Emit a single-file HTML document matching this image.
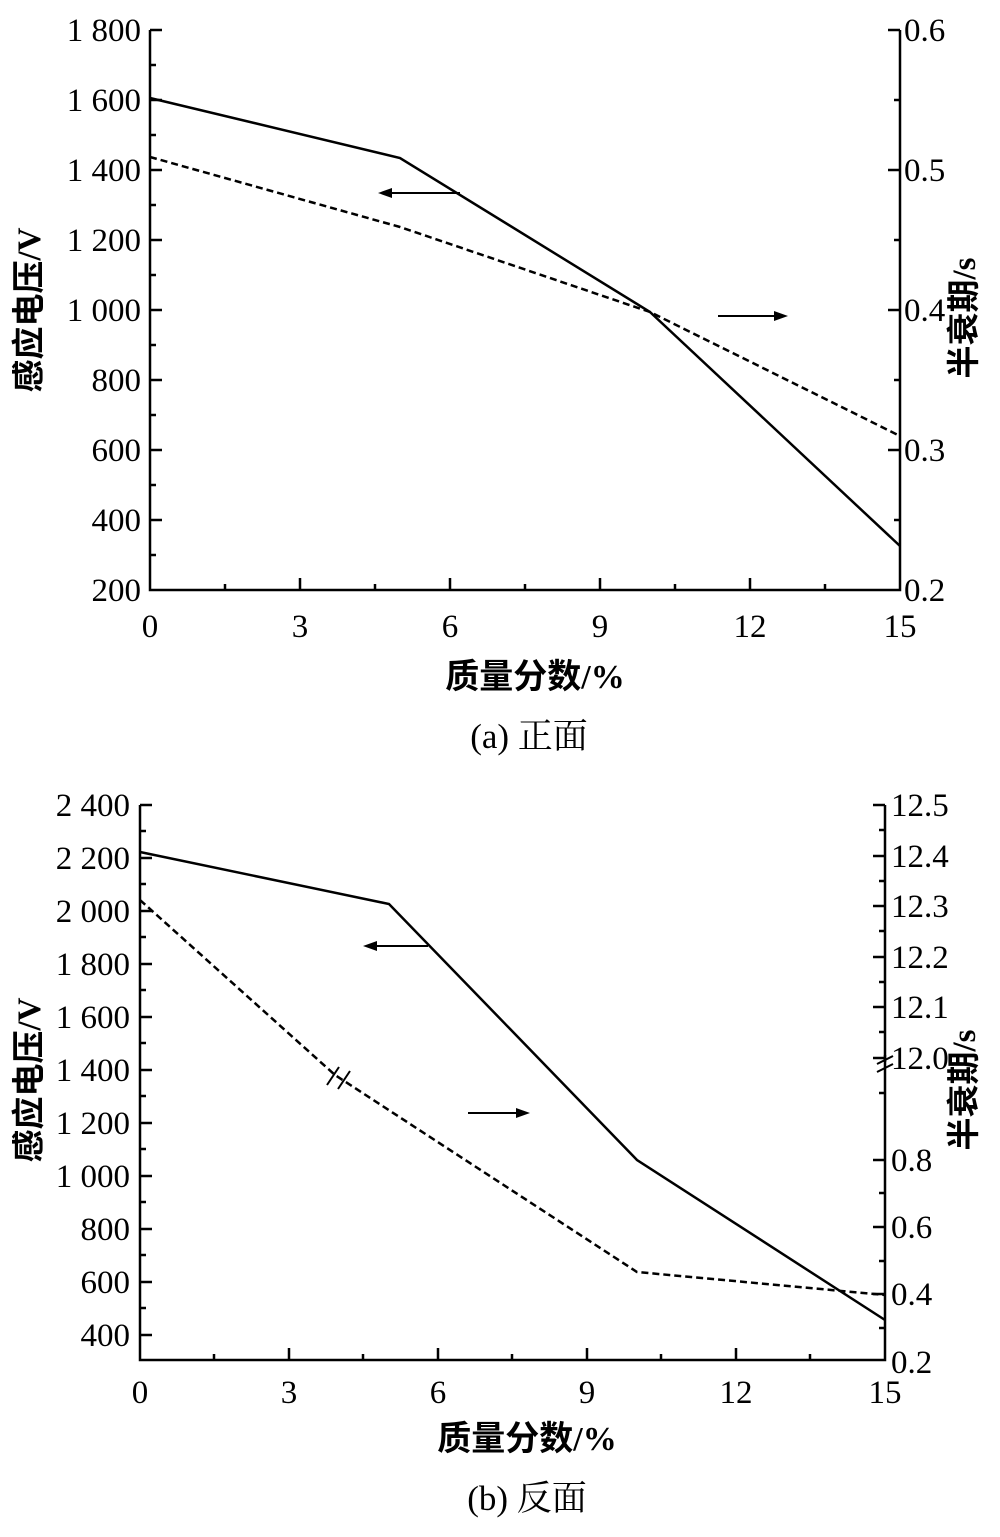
<!DOCTYPE html>
<html><head><meta charset="utf-8"><style>
body{margin:0;background:#fff}
text{font-family:"Liberation Serif","Noto Serif CJK SC",serif;fill:#000}
.c{font-family:"Liberation Serif","Noto Sans CJK SC",sans-serif;font-weight:bold}
</style></head><body>
<svg width="1000" height="1532" viewBox="0 0 1000 1532" xmlns="http://www.w3.org/2000/svg">
<g stroke="#000" stroke-width="2.5" fill="none">
<polyline points="150,30 150,590 900,590 900,30"/>
<path d="M150,30h12M150,100h12M150,170h12M150,240h12M150,310h12M150,380h12M150,450h12M150,520h12M150,65h6M150,135h6M150,205h6M150,275h6M150,345h6M150,415h6M150,485h6M150,555h6"/>
<path d="M900,30h-12M900,170h-12M900,310h-12M900,450h-12M900,100h-6M900,240h-6M900,380h-6M900,520h-6"/>
<path d="M300,590v-12M450,590v-12M600,590v-12M750,590v-12M225,590v-6M375,590v-6M525,590v-6M675,590v-6M825,590v-6"/>
<polyline points="150,98 400,158 650,312 900,546"/>
<polyline points="150,157 400,227 650,312 900,436" stroke-dasharray="7,4"/>
<path d="M460,193H385M718,316H780" stroke-width="2"/>
</g>
<path d="M378,193l14,-5v10z M788,316l-14,-5v10z" fill="#000"/>
<g font-size="33" text-anchor="end">
<text x="141" y="41">1 800</text><text x="141" y="111">1 600</text><text x="141" y="181">1 400</text><text x="141" y="251">1 200</text><text x="141" y="321">1 000</text><text x="141" y="391">800</text><text x="141" y="461">600</text><text x="141" y="531">400</text><text x="141" y="601">200</text>
</g>
<g font-size="33">
<text x="904" y="41">0.6</text><text x="904" y="181">0.5</text><text x="904" y="321">0.4</text><text x="904" y="461">0.3</text><text x="904" y="601">0.2</text>
</g>
<g font-size="33" text-anchor="middle">
<text x="150" y="637">0</text><text x="300" y="637">3</text><text x="450" y="637">6</text><text x="600" y="637">9</text><text x="750" y="637">12</text><text x="900" y="637">15</text>
<text class="c" font-size="34" x="535" y="688">质量分数/%</text>
<text font-size="35" x="529" y="748">(a) 正面</text>
</g>
<text class="c" font-size="33" text-anchor="middle" transform="translate(40,310) rotate(-90)">感应电压/V</text>
<text class="c" font-size="33" text-anchor="middle" transform="translate(975,318) rotate(-90)">半衰期/s</text>

<g stroke="#000" stroke-width="2.5" fill="none">
<polyline points="140,805 140,1360 885,1360 885,1055"/>
<line x1="885" y1="1062" x2="885" y2="805"/>
<path d="M140,805h12M140,858h12M140,911h12M140,964h12M140,1017h12M140,1070h12M140,1123h12M140,1176h12M140,1229h12M140,1282h12M140,1335h12M140,831h6M140,884h6M140,937h6M140,990h6M140,1043h6M140,1096h6M140,1149h6M140,1202h6M140,1255h6M140,1308h6"/>
<path d="M885,805h-12M885,856h-12M885,906h-12M885,957h-12M885,1007h-12M885,1058h-12M885,830h-6M885,881h-6M885,931h-6M885,982h-6M885,1032h-6M885,1093h-6M885,1160h-12M885,1227h-12M885,1294h-12M885,1193h-6M885,1261h-6M885,1328h-6"/>
<path d="M877,1064l16,-8M877,1072l16,-8" stroke-width="2"/>
<path d="M289,1360v-12M438,1360v-12M587,1360v-12M736,1360v-12M214,1360v-6M363,1360v-6M512,1360v-6M661,1360v-6M810,1360v-6"/>
<polyline points="140,852 389,904 637,1160 885,1320"/>
<polyline points="140,900 335,1075 637,1272 885,1295" stroke-dasharray="7,4"/>
<path d="M327,1085l12,-18M338,1089l12,-18" stroke-width="2"/>
<path d="M428,946H370M468,1113H522" stroke-width="2"/>
</g>
<path d="M363,946l14,-5v10z M530,1113l-14,-5v10z" fill="#000"/>
<g font-size="33" text-anchor="end">
<text x="130" y="816">2 400</text><text x="130" y="869">2 200</text><text x="130" y="922">2 000</text><text x="130" y="975">1 800</text><text x="130" y="1028">1 600</text><text x="130" y="1081">1 400</text><text x="130" y="1134">1 200</text><text x="130" y="1187">1 000</text><text x="130" y="1240">800</text><text x="130" y="1293">600</text><text x="130" y="1346">400</text>
</g>
<g font-size="33">
<text x="891" y="816">12.5</text><text x="891" y="867">12.4</text><text x="891" y="917">12.3</text><text x="891" y="968">12.2</text><text x="891" y="1018">12.1</text><text x="891" y="1069">12.0</text><text x="891" y="1171">0.8</text><text x="891" y="1238">0.6</text><text x="891" y="1305">0.4</text><text x="891" y="1373">0.2</text>
</g>
<g font-size="33" text-anchor="middle">
<text x="140" y="1403">0</text><text x="289" y="1403">3</text><text x="438" y="1403">6</text><text x="587" y="1403">9</text><text x="736" y="1403">12</text><text x="885" y="1403">15</text>
<text class="c" font-size="34" x="527" y="1450">质量分数/%</text>
<text font-size="35" x="527" y="1510">(b) 反面</text>
</g>
<text class="c" font-size="33" text-anchor="middle" transform="translate(40,1080) rotate(-90)">感应电压/V</text>
<text class="c" font-size="33" text-anchor="middle" transform="translate(975,1090) rotate(-90)">半衰期/s</text>
</svg>
</body></html>
